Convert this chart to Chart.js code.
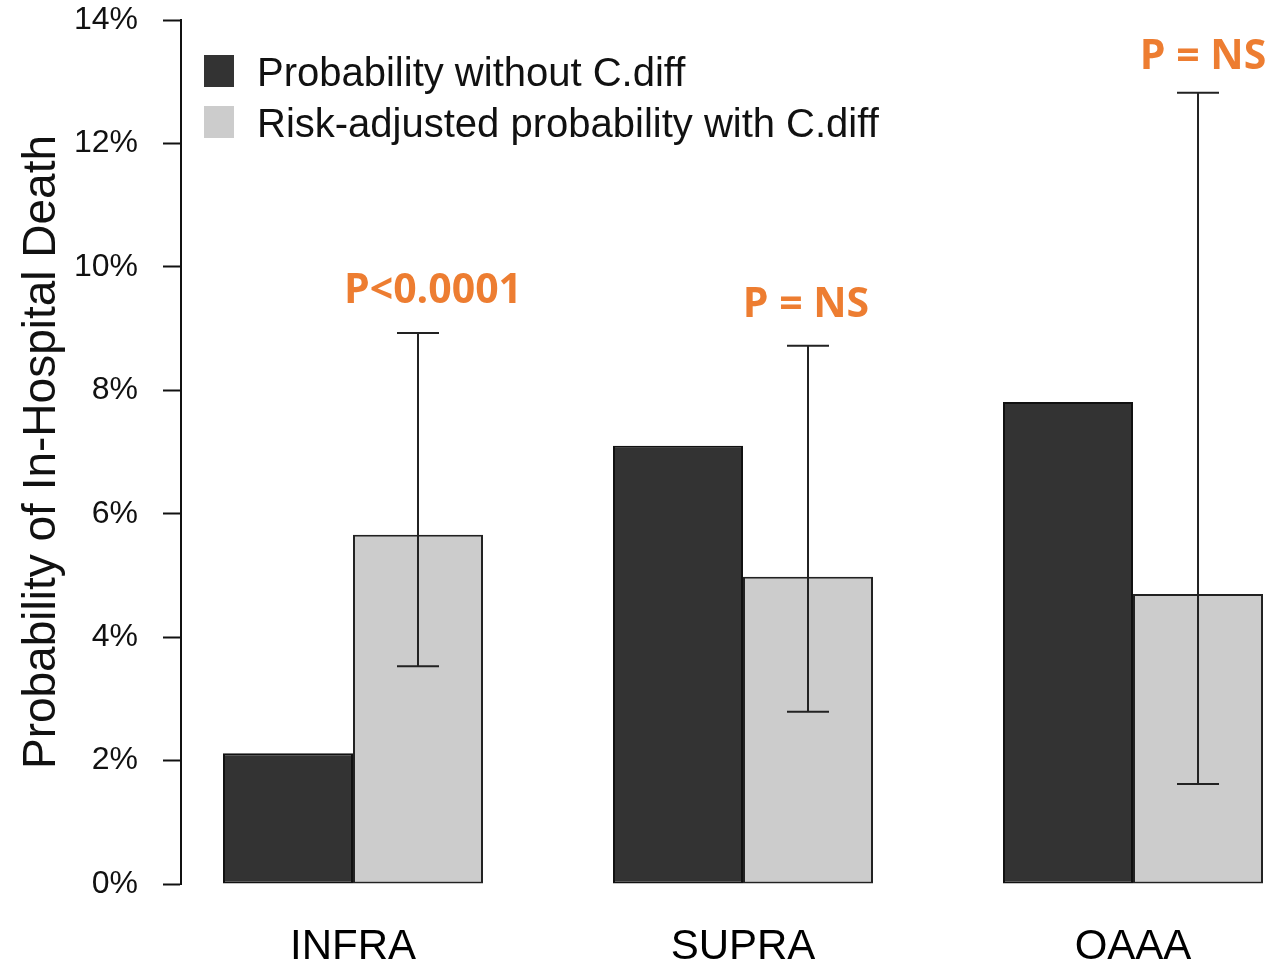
<!DOCTYPE html>
<html lang="en">
<head>
    <meta charset="UTF-8">
    <title>Probability of In-Hospital Death</title>
    <script src="https://cdn.jsdelivr.net/npm/chart.js"></script>
    <style>
        body { margin: 0; background: #fff; }
        #wrap { width: 1268px; height: 963px; position: relative; }
    </style>
</head>
<body>
    <div id="wrap"><canvas id="deathChart"></canvas></div>
    <script>
        // values (percent)
        const groups = ["INFRA", "SUPRA", "OAAA"];
        const seriesNames = ["Probability without C.diff", "Risk-adjusted probability with C.diff"];
        const withoutCdiff = [2.12, 7.10, 7.81];
        const withCdiff = [5.66, 4.98, 4.70];
        const withCdiffLow = [3.53, 2.79, 1.62];
        const withCdiffHigh = [8.93, 8.72, 12.82];
        const pLabels = ["P<0.0001", "P = NS", "P = NS"];
        const yTicks = [0, 2, 4, 6, 8, 10, 12, 14];

        Chart.defaults.font.family = "'Liberation Sans', Arial, sans-serif";
        Chart.defaults.color = "#111";

        // error bars on the light series
        const errorBars = {
            id: "errorBars",
            afterDatasetsDraw(chart) {
                const ctx = chart.ctx;
                const y = chart.scales.y;
                const meta = chart.getDatasetMeta(1);
                ctx.save();
                ctx.strokeStyle = "#222";
                ctx.lineWidth = 2;
                meta.data.forEach((bar, i) => {
                    const top = y.getPixelForValue(withCdiffHigh[i]);
                    const bot = y.getPixelForValue(withCdiffLow[i]);
                    ctx.beginPath();
                    ctx.moveTo(bar.x, top); ctx.lineTo(bar.x, bot);
                    ctx.moveTo(bar.x - 21, top); ctx.lineTo(bar.x + 21, top);
                    ctx.moveTo(bar.x - 21, bot); ctx.lineTo(bar.x + 21, bot);
                    ctx.stroke();
                });
                ctx.restore();
            }
        };

        // orange p-value labels above the error bars
        const pValues = {
            id: "pValues",
            afterDatasetsDraw(chart, args, opts) {
                const ctx = chart.ctx;
                const y = chart.scales.y;
                const meta = chart.getDatasetMeta(1);
                ctx.save();
                ctx.fillStyle = "#ED7D31";
                ctx.font = "bold 41px 'Open Sans', sans-serif";
                ctx.textAlign = "center";
                ctx.textBaseline = "middle";
                meta.data.forEach((bar, i) => {
                    const top = y.getPixelForValue(withCdiffHigh[i]);
                    ctx.fillText(pLabels[i], bar.x + opts.dx[i], top - opts.gap[i]);
                });
                ctx.restore();
            }
        };

        // legend drawn inside the plot, top left
        const boxLegend = {
            id: "boxLegend",
            afterDraw(chart) {
                const ctx = chart.ctx;
                const area = chart.chartArea;
                ctx.save();
                ctx.font = "40px 'Liberation Sans', Arial, sans-serif";
                ctx.textBaseline = "middle";
                chart.data.datasets.forEach((ds, i) => {
                    const cy = area.top + 52 + i * 51;
                    ctx.fillStyle = ds.backgroundColor;
                    ctx.fillRect(area.left + 23, cy - 17, 30, 32);
                    ctx.fillStyle = "#111";
                    ctx.fillText(seriesNames[i], area.left + 76, cy + 3);
                });
                ctx.restore();
            }
        };

        const ctx = document.getElementById("deathChart").getContext("2d");
        new Chart(ctx, {
            type: "bar",
            data: {
                datasets: [
                    {
                        label: seriesNames[0],
                        data: withoutCdiff.map((v, i) => ({ x: i, y: v })),
                        backgroundColor: "#333333",
                        borderColor: "#111",
                        borderWidth: 2,
                        borderSkipped: false
                    },
                    {
                        label: seriesNames[1],
                        data: withCdiff.map((v, i) => ({ x: i, y: v })),
                        backgroundColor: "#CCCCCC",
                        borderColor: "#222",
                        borderWidth: 2,
                        borderSkipped: false
                    }
                ]
            },
            options: {
                responsive: true,
                maintainAspectRatio: false,
                animation: false,
                categoryPercentage: 0.6667,
                barPercentage: 1,
                layout: { padding: { top: 20, right: 2, left: 0, bottom: 0 } },
                plugins: {
                    legend: { display: false },
                    tooltip: { enabled: false },
                    pValues: { dx: [15, -2, 5], gap: [42, 41, 35] }
                },
                scales: {
                    x: {
                        type: "linear",
                        offset: false,
                        min: -0.441,
                        max: 2.341,
                        afterBuildTicks: (scale) => {
                            scale.ticks = groups.map((g, i) => ({ value: i }));
                        },
                        afterFit: (scale) => {
                            scale.height = 79;
                            scale.paddingLeft = 0;
                            scale.paddingRight = 0;
                        },
                        grid: { display: false, offset: false },
                        border: { display: false },
                        ticks: {
                            autoSkip: false,
                            maxRotation: 0,
                            padding: 30,
                            color: "#000",
                            font: { size: 42 },
                            callback: (v) => groups[v]
                        }
                    },
                    y: {
                        min: 0,
                        max: 14,
                        afterBuildTicks: (scale) => {
                            scale.ticks = yTicks.map(v => ({ value: v }));
                        },
                        afterFit: (scale) => {
                            scale.width = 181;
                            scale.paddingTop = 0;
                            scale.paddingBottom = 0;
                        },
                        grid: {
                            drawOnChartArea: false,
                            drawTicks: true,
                            tickLength: 18,
                            tickWidth: 2,
                            color: "#111"
                        },
                        border: { display: true, color: "#111", width: 2 },
                        ticks: {
                            padding: 25,
                            color: "#111",
                            font: { size: 32 },
                            callback: (v) => v + "%"
                        },
                        title: {
                            display: true,
                            text: "Probability of In-Hospital Death",
                            color: "#111",
                            font: { size: 46 },
                            padding: { top: 15, bottom: 0 }
                        }
                    }
                }
            },
            plugins: [errorBars, pValues, boxLegend]
        });
    </script>
</body>
</html>
